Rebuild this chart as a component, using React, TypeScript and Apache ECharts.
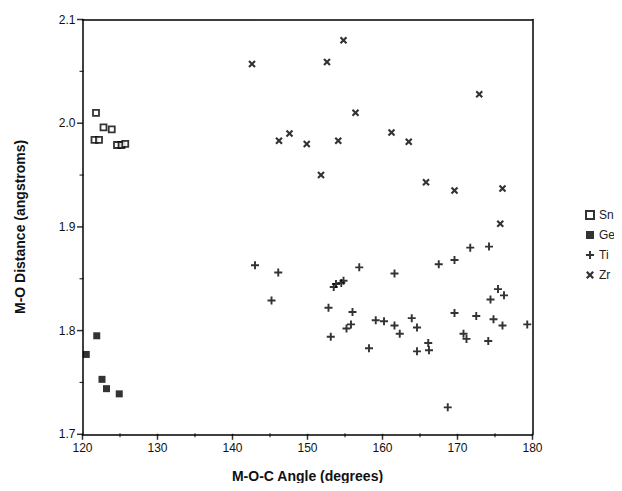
import React, { useEffect, useRef } from "react";
import * as echarts from "echarts";

const snX = [121.8, 121.6, 122.2, 122.8, 123.9, 124.6, 125.2, 125.7];
const snY = [2.010, 1.984, 1.984, 1.996, 1.994, 1.979, 1.979, 1.980];

const geX = [120.5, 121.9, 122.6, 123.2, 124.9];
const geY = [1.777, 1.795, 1.753, 1.744, 1.739];

const tiX = [143.0, 146.1, 145.2, 156.9, 153.5, 153.8, 154.5, 154.8, 152.8, 153.1, 156.0, 155.2, 155.8, 158.2, 159.1, 160.2, 161.6, 161.6, 162.3, 163.9, 164.6, 164.6, 166.1, 166.2, 167.5, 169.6, 169.6, 168.7, 171.7, 174.2, 170.8, 171.2, 172.5, 174.1, 174.4, 175.4, 176.2, 174.8, 176.0, 179.3];
const tiY = [1.863, 1.856, 1.829, 1.861, 1.842, 1.845, 1.846, 1.848, 1.822, 1.794, 1.818, 1.802, 1.806, 1.783, 1.810, 1.809, 1.855, 1.805, 1.797, 1.812, 1.803, 1.780, 1.788, 1.781, 1.864, 1.868, 1.817, 1.726, 1.880, 1.881, 1.797, 1.792, 1.814, 1.790, 1.830, 1.840, 1.834, 1.811, 1.805, 1.806];

const zrX = [142.6, 154.8, 152.6, 172.9, 156.4, 146.2, 147.6, 149.9, 154.1, 161.2, 163.5, 151.8, 165.8, 169.6, 176.0, 175.7];
const zrY = [2.057, 2.080, 2.059, 2.028, 2.010, 1.983, 1.990, 1.980, 1.983, 1.991, 1.982, 1.950, 1.943, 1.935, 1.937, 1.903];

const seriesNames = ["Sn", "Ge", "Ti", "Zr"];

// tick positions (axis values)
const xMajorTicks = [120, 130, 140, 150, 160, 170, 180];
const xMinorTicks = [125, 135, 145, 155, 165, 175];
const yMajorTicks = [1.7, 1.8, 1.9, 2.0, 2.1];
const yMinorTicks = [1.75, 1.85, 1.95, 2.05];

const PLUS = "path://M3.8,0H6.2V3.8H10V6.2H6.2V10H3.8V6.2H0V3.8H3.8Z";
const CROSS = "path://M0,2L2,0L5,3L8,0L10,2L7,5L10,8L8,10L5,7L2,10L0,8L3,5Z";

const zip = (xs: number[], ys: number[]) => xs.map((x, i) => [x, ys[i]]);

export default function App() {
  const ref = useRef<HTMLDivElement>(null);
  useEffect(() => {
    if (!ref.current) return;
    const chart = echarts.init(ref.current, undefined, { renderer: "svg" });
    const font = "Liberation Sans, Arial, sans-serif";
    const frameLine = { show: true, onZero: false, lineStyle: { color: "#000", width: 1.5 } };
    const tickSeries = (name: string, data: number[][], size: number[], offset: number[]) => ({
      name,
      type: "scatter",
      data,
      symbol: "rect",
      symbolSize: size,
      symbolOffset: offset,
      clip: false,
      silent: true,
      itemStyle: { color: "#000" },
      z: 1,
    });
    chart.setOption({
      animation: false,
      backgroundColor: "#fff",
      textStyle: { fontFamily: font },
      grid: {
        left: 82.5,
        right: 89.5,
        top: 19.5,
        bottom: 56.7,
      },
      legend: {
        orient: "vertical",
        left: 580,
        top: 204,
        itemWidth: 8,
        itemHeight: 8,
        itemGap: 8,
        textStyle: { fontSize: 12, color: "#222", fontFamily: font },
        data: seriesNames,
      },
      xAxis: [
        {
          type: "value",
          position: "bottom",
          min: 120,
          max: 180,
          interval: 10,
          name: "M-O-C Angle (degrees)",
          nameLocation: "middle",
          nameGap: 35,
          nameTextStyle: { fontSize: 14, fontWeight: "bold", color: "#111", fontFamily: font },
          axisLine: frameLine,
          axisTick: { show: false },
          axisLabel: { show: true, fontSize: 12, color: "#111", margin: 8 },
          splitLine: { show: false },
        },
        {
          type: "value",
          position: "top",
          min: 120,
          max: 180,
          interval: 10,
          axisLine: frameLine,
          axisTick: { show: false },
          axisLabel: { show: false },
          splitLine: { show: false },
        },
      ],
      yAxis: [
        {
          type: "value",
          position: "left",
          min: 1.7,
          max: 2.1,
          interval: 0.1,
          name: "M-O Distance (angstroms)",
          nameLocation: "middle",
          nameGap: 56,
          nameTextStyle: { fontSize: 14, fontWeight: "bold", color: "#111", fontFamily: font },
          axisLine: frameLine,
          axisTick: { show: false },
          axisLabel: { show: true, fontSize: 12, color: "#111", margin: 7, formatter: (v: number) => v.toFixed(1) },
          splitLine: { show: false },
        },
        {
          type: "value",
          position: "right",
          min: 1.7,
          max: 2.1,
          interval: 0.1,
          axisLine: frameLine,
          axisTick: { show: false },
          axisLabel: { show: false },
          splitLine: { show: false },
        },
      ],
      series: [
        tickSeries("xMajor", xMajorTicks.map((v) => [v, 1.7]), [1.5, 6], [0, 2.5]),
        tickSeries("xMinor", xMinorTicks.map((v) => [v, 1.7]), [1.2, 4], [0, 1]),
        tickSeries("yMajor", yMajorTicks.map((v) => [120, v]), [6, 1.5], [-2.5, 0]),
        tickSeries("yMinor", yMinorTicks.map((v) => [120, v]), [4, 1.2], [-1, 0]),
        {
          name: "Sn",
          type: "scatter",
          data: zip(snX, snY),
          symbol: "rect",
          symbolSize: 6,
          itemStyle: { color: "#fff", borderColor: "#000", borderWidth: 1.8 },
        },
        {
          name: "Ge",
          type: "scatter",
          data: zip(geX, geY),
          symbol: "rect",
          symbolSize: 7,
          itemStyle: { color: "#000" },
        },
        {
          name: "Ti",
          type: "scatter",
          data: zip(tiX, tiY),
          symbol: PLUS,
          symbolSize: 8,
          itemStyle: { color: "#000" },
        },
        {
          name: "Zr",
          type: "scatter",
          data: zip(zrX, zrY),
          symbol: CROSS,
          symbolSize: 7.5,
          itemStyle: { color: "#000" },
        },
      ],
    });
    return () => chart.dispose();
  }, []);
  return <div ref={ref} style={{ width: 622, height: 491, margin: -8 }} />;
}
